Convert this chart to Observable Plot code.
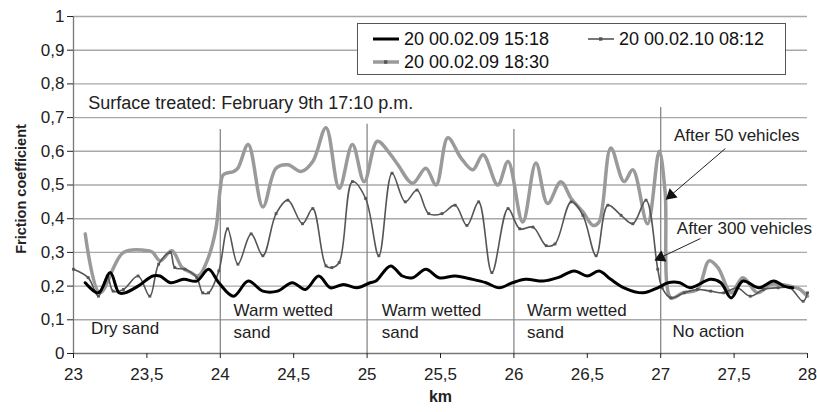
<!DOCTYPE html>
<html><head><meta charset="utf-8">
<script src="https://cdn.jsdelivr.net/npm/d3@7"></script>
<script src="https://cdn.jsdelivr.net/npm/@observablehq/plot@0.6"></script>
<style>
body{margin:0;background:#fff;font-family:"Liberation Sans",Arial,sans-serif;}
#wrap{position:relative;width:817px;height:412px;}
#legend{position:absolute;left:357px;top:23px;width:429px;height:52px;box-sizing:border-box;border:1.3px solid #555;background:#fff;font-size:18px;color:#111;}
.it{position:absolute;display:flex;align-items:center;white-space:nowrap;line-height:20px;}
.it svg{margin-right:5px;}
</style></head><body>
<div id="wrap"><div id="legend"></div></div>
<script>
const seriesNames = ["20 00.02.09 15:18", "20 00.02.10 08:12", "20 00.02.09 18:30"];

const km1518 = [23.08,23.17,23.25,23.31,23.35,23.44,23.54,23.59,23.66,23.75,23.84,23.92,23.99,24.09,24.19,24.29,24.39,24.49,24.58,24.67,24.75,24.84,24.93,25.02,25.06,25.16,25.24,25.31,25.40,25.49,25.60,25.72,25.81,25.90,25.99,26.08,26.20,26.30,26.41,26.50,26.58,26.66,26.75,26.88,26.98,27.05,27.13,27.20,27.34,27.41,27.48,27.56,27.67,27.77,27.84,27.90];
const val1518 = [0.21,0.18,0.24,0.18,0.18,0.20,0.23,0.23,0.21,0.22,0.215,0.25,0.21,0.17,0.215,0.185,0.185,0.21,0.19,0.23,0.195,0.205,0.195,0.21,0.215,0.26,0.23,0.225,0.25,0.225,0.23,0.22,0.21,0.195,0.21,0.22,0.215,0.225,0.245,0.23,0.245,0.22,0.195,0.18,0.195,0.21,0.21,0.195,0.22,0.21,0.165,0.215,0.195,0.215,0.20,0.195];

const km0812 = [23.00,23.10,23.17,23.23,23.27,23.34,23.44,23.52,23.58,23.66,23.69,23.76,23.84,23.88,23.92,23.99,24.05,24.12,24.21,24.29,24.38,24.46,24.56,24.63,24.72,24.76,24.81,24.90,24.99,25.08,25.17,25.26,25.34,25.42,25.51,25.60,25.68,25.76,25.85,25.96,26.04,26.13,26.22,26.28,26.39,26.47,26.56,26.64,26.73,26.81,26.90,26.98,27.01,27.07,27.16,27.25,27.34,27.43,27.52,27.61,27.70,27.80,27.88,27.97,28.00];
const val0812 = [0.25,0.225,0.17,0.23,0.185,0.19,0.23,0.17,0.265,0.30,0.255,0.25,0.225,0.18,0.18,0.245,0.37,0.265,0.355,0.29,0.415,0.455,0.385,0.43,0.26,0.255,0.27,0.51,0.46,0.29,0.535,0.45,0.485,0.415,0.415,0.44,0.38,0.45,0.24,0.43,0.37,0.375,0.32,0.325,0.45,0.41,0.29,0.44,0.41,0.385,0.455,0.25,0.195,0.165,0.18,0.19,0.185,0.18,0.195,0.17,0.19,0.195,0.195,0.155,0.18];

const km1830 = [23.08,23.18,23.34,23.51,23.54,23.59,23.67,23.74,23.80,23.85,23.91,23.97,24.00,24.02,24.09,24.12,24.19,24.29,24.38,24.46,24.55,24.63,24.72,24.81,24.90,24.98,25.07,25.16,25.21,25.31,25.40,25.47,25.55,25.64,25.72,25.79,25.89,25.96,26.06,26.15,26.23,26.32,26.39,26.47,26.54,26.58,26.66,26.75,26.81,26.91,26.99,27.03,27.07,27.15,27.25,27.33,27.39,27.48,27.56,27.66,27.75,27.88,27.95,28.00];
const val1830 = [0.355,0.18,0.30,0.305,0.30,0.275,0.305,0.255,0.24,0.23,0.275,0.37,0.49,0.53,0.54,0.55,0.62,0.435,0.55,0.56,0.54,0.57,0.67,0.49,0.62,0.51,0.63,0.59,0.56,0.505,0.55,0.50,0.64,0.58,0.545,0.59,0.50,0.57,0.39,0.565,0.445,0.51,0.46,0.42,0.38,0.39,0.61,0.51,0.545,0.385,0.60,0.48,0.165,0.18,0.19,0.275,0.255,0.18,0.225,0.18,0.205,0.20,0.19,0.17];

const xTicks = [23,23.5,24,24.5,25,25.5,26,26.5,27,27.5,28];
const yTicks = [0,0.1,0.2,0.3,0.4,0.5,0.6,0.7,0.8,0.9,1];

const sectionKm = [24,25,26,27];
const sectionTop = [0.665,0.68,0.665,0.73];
const regionLabels = ["Dry sand","Warm wetted\nsand","Warm wetted\nsand","Warm wetted\nsand","No action"];
const regionKm = [23.12,24.09,25.10,26.09,27.08];
const regionY = [0.078,0.099,0.099,0.099,0.070];

const notes = ["Surface treated: February 9th 17:10 p.m.","After 50 vehicles","After 300 vehicles"];
const noteKm = [23.10,27.09,27.11];
const noteY = [0.742,0.647,0.371];
const arrowsFrom = [[27.44,0.608],[27.27,0.341]];
const arrowsTo = [[27.07,0.470],[27.00,0.285]];
const arrowHeadAngle = [229,245];

const toRows = (ks, vs) => ks.map((k,i)=>({km:k, v:vs[i]}));
const s1 = toRows(km1518,val1518), s2 = toRows(km0812,val0812), s3 = toRows(km1830,val1830);
const fmt = d => Number.isInteger(d) ? String(d) : String(d).replace(".", ",");
const fmtY = d => d===0 ? "0" : d===1 ? "1" : d.toFixed(1).replace(".", ",");

const colBlack="#000", colDark="#555", colLight="#9a9a9a";
const FF = '"Liberation Sans", Arial, sans-serif';

const plot = Plot.plot({
  width: 817, height: 412,
  marginLeft: 73, marginRight: 10, marginTop: 16, marginBottom: 59,
  style: {fontFamily: FF, fontSize: "17px", color: "#222", background: "#fff"},
  x: {domain: [23,28], label: null},
  y: {domain: [0,1], label: null},
  marks: [
    Plot.ruleY(yTicks.filter(d=>d>0), {stroke: "#a8a8a8", strokeWidth: 1.4}),
    Plot.ruleX(sectionKm.map((k,i)=>({k, t: sectionTop[i]})), {x: "k", y1: 0, y2: "t", stroke: "#888", strokeWidth: 1.3}),
    Plot.ruleX([23], {stroke: "#777", strokeWidth: 1.3}),
    Plot.ruleY([0], {stroke: "#777", strokeWidth: 1.3}),
    Plot.line(s3, {x: "km", y: "v", stroke: colLight, strokeWidth: 3.5, curve: "catmull-rom"}),
    Plot.line(s2, {x: "km", y: "v", stroke: colDark, strokeWidth: 1.6, curve: "catmull-rom"}),
    Plot.dot(s2, {x: "km", y: "v", symbol: "square", r: 1.6, fill: colDark, stroke: null}),
    Plot.line(s1, {x: "km", y: "v", stroke: colBlack, strokeWidth: 3, curve: "catmull-rom"}),
    Plot.text(regionLabels.map((t,i)=>({t, k: regionKm[i], y: regionY[i]})), {x: "k", y: "y", text: "t", textAnchor: "start", fontSize: 17, lineHeight: 1.3, fill: "#222"}),
    Plot.text(notes.map((t,i)=>({t, k: noteKm[i], y: noteY[i]})), {x: "k", y: "y", text: "t", textAnchor: "start", fontSize: [18,17,17], fill: "#222"}),
    Plot.link(arrowsFrom.map((f,i)=>({x1:f[0], y1:f[1], x2:arrowsTo[i][0], y2:arrowsTo[i][1]})), {x1:"x1", y1:"y1", x2:"x2", y2:"y2", stroke: "#222", strokeWidth: 1}),
    Plot.dot(arrowsTo.map((p,i)=>({x:p[0], y:p[1], a: arrowHeadAngle[i]})), {x: "x", y: "y", rotate: "a", symbol: "triangle", r: 4.5, fill: "#111", stroke: null}),
    Plot.axisX({ticks: xTicks, tickFormat: fmt, tickSize: 5, tickPadding: 9, fontSize: 17, label: null}),
    Plot.axisY({ticks: yTicks, tickFormat: fmtY, tickSize: 6, tickPadding: 3, fontSize: 17, label: null}),
    Plot.text(["km"], {frameAnchor: "bottom", dy: 48, fontWeight: "bold", fontSize: 16, fill: "#222"}),
    Plot.text(["Friction coefficient"], {frameAnchor: "left", textAnchor: "middle", dx: -52, dy: 4, rotate: -90, fontWeight: "bold", fontSize: 14.5, fill: "#222"})
  ]
});
document.getElementById("wrap").prepend(plot);

// legend
const lg = document.getElementById("legend");
const items = [
  {name: seriesNames[0], color: colBlack, w: 3, mark: false, left: 15, top: 5},
  {name: seriesNames[1], color: colDark, w: 1.6, mark: true, left: 230, top: 5},
  {name: seriesNames[2], color: colLight, w: 3.5, mark: true, left: 15, top: 28}
];
items.forEach(it => {
  const d = document.createElement("div");
  d.className = "it"; d.style.left = it.left + "px"; d.style.top = it.top + "px";
  d.innerHTML = `<svg width="26" height="16"><line x1="0" x2="26" y1="8" y2="8" stroke="${it.color}" stroke-width="${it.w}"/>${it.mark?`<rect x="11" y="6.3" width="3.4" height="3.4" fill="${colDark}"/>`:""}</svg><span>${it.name}</span>`;
  lg.appendChild(d);
});
</script>
</body></html>
